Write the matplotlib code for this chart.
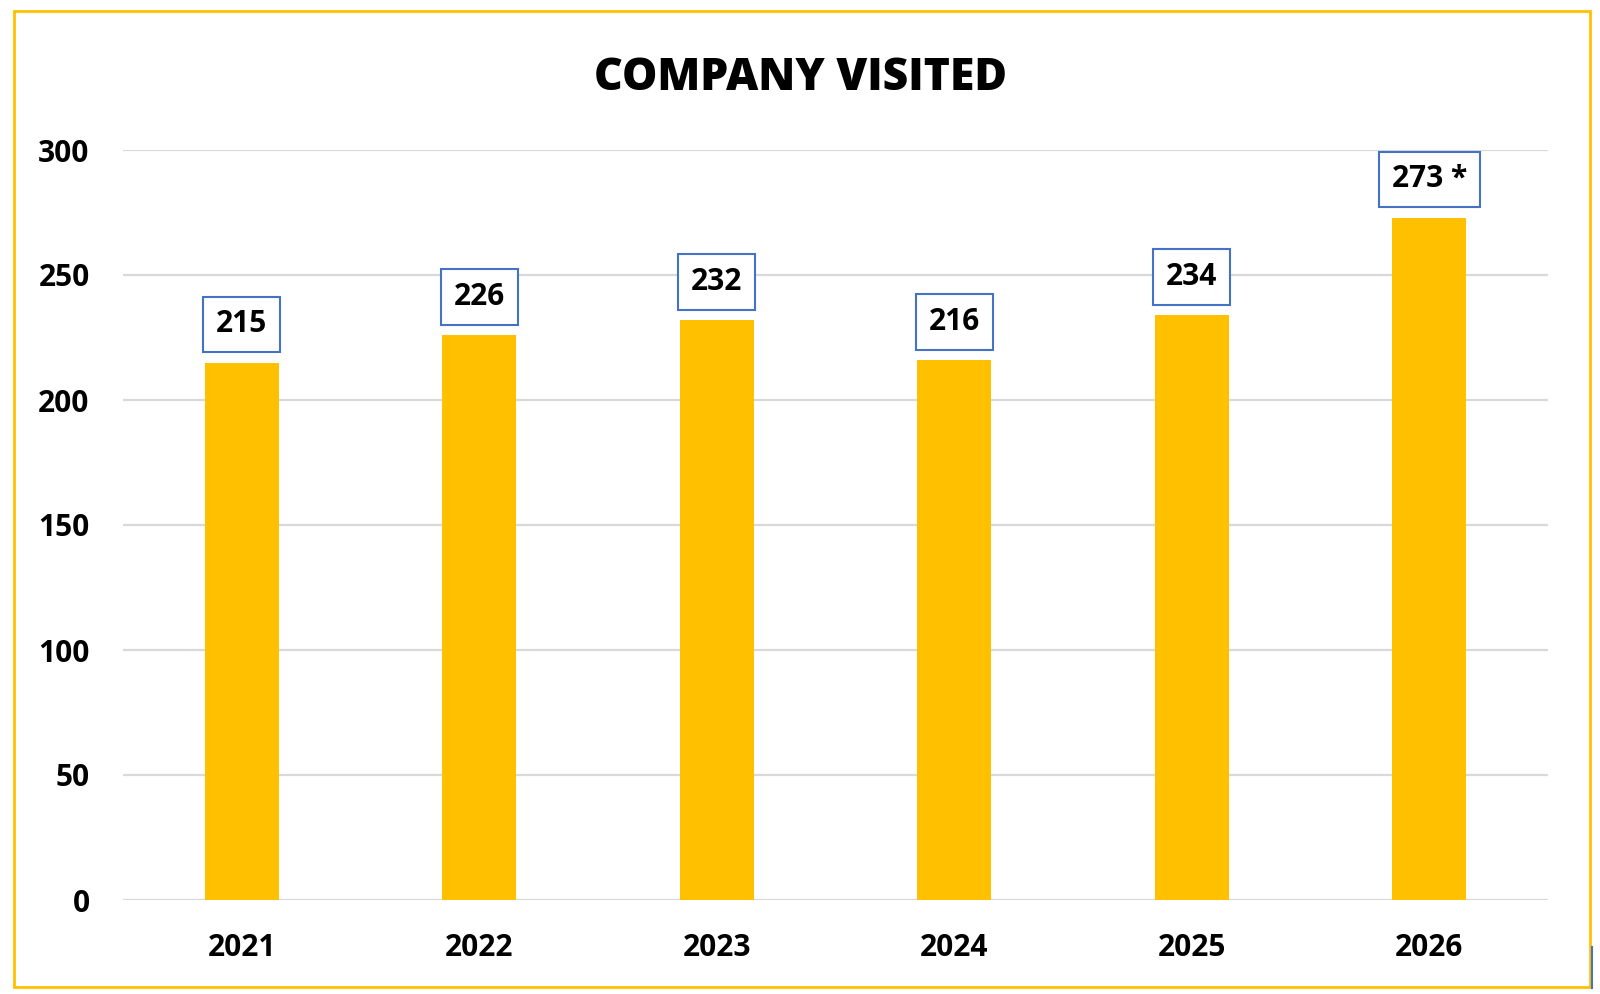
import matplotlib
matplotlib.use("Agg")
import matplotlib.pyplot as plt
from matplotlib.patches import Rectangle
from matplotlib.lines import Line2D

years = ["2021", "2022", "2023", "2024", "2025", "2026"]
values = [215, 226, 232, 216, 234, 273]
labels = ["215", "226", "232", "216", "234", "273 *"]
yticks = [0, 50, 100, 150, 200, 250, 300]
title = "COMPANY VISITED"

plt.rcParams['font.family'] = ['Open Sans', 'DejaVu Sans']
plt.rcParams['font.weight'] = 'bold'

W, H = 1600, 994
fig = plt.figure(figsize=(W / 100, H / 100), dpi=100)
ax = fig.add_axes([123 / W, (H - 900) / H, 1425 / W, 750 / H])

x = list(range(len(years)))
ax.bar(x, values, width=0.31, color="#FFC000", zorder=3)
ax.set_xlim(-0.5, len(years) - 0.5)
ax.set_ylim(0, 300)
ax.set_yticks(yticks)
ax.set_xticks(x)
ax.set_xticklabels(years)
ax.tick_params(axis='both', length=0, labelsize=21.5, labelcolor='black')
ax.tick_params(axis='y', pad=24)
ax.tick_params(axis='x', pad=24)
for t in ax.get_xticklabels() + ax.get_yticklabels():
    t.set_fontweight('bold')
ax.grid(axis='y', color="#D9D9D9", linewidth=1.6, zorder=0)
ax.grid(axis='x', visible=False)
for s in ax.spines.values():
    s.set_visible(False)

for xi, v, lab in zip(x, values, labels):
    ax.annotate(lab, (xi, v), xytext=(0, 27.4), textcoords='offset points',
                ha='center', va='center', fontsize=21.5, fontweight='bold',
                bbox=dict(boxstyle='square,pad=0.43', fc='white', ec='#4472C4', lw=1.5),
                zorder=5)

fig.text(800 / W, 1 - 78 / H, title, ha='center', va='center',
         fontsize=32, fontweight='heavy')

fig.patches.append(Rectangle((14 / W, 7 / H), 1576 / W, 976 / H,
                             transform=fig.transFigure, fill=False,
                             ec="#FFC000", lw=2))
fig.lines.append(Line2D([1592 / W, 1592 / W], [6 / H, 47 / H],
                        transform=fig.transFigure, color="#4472C4", lw=1.5))

fig.savefig("out.png", dpi=100)
